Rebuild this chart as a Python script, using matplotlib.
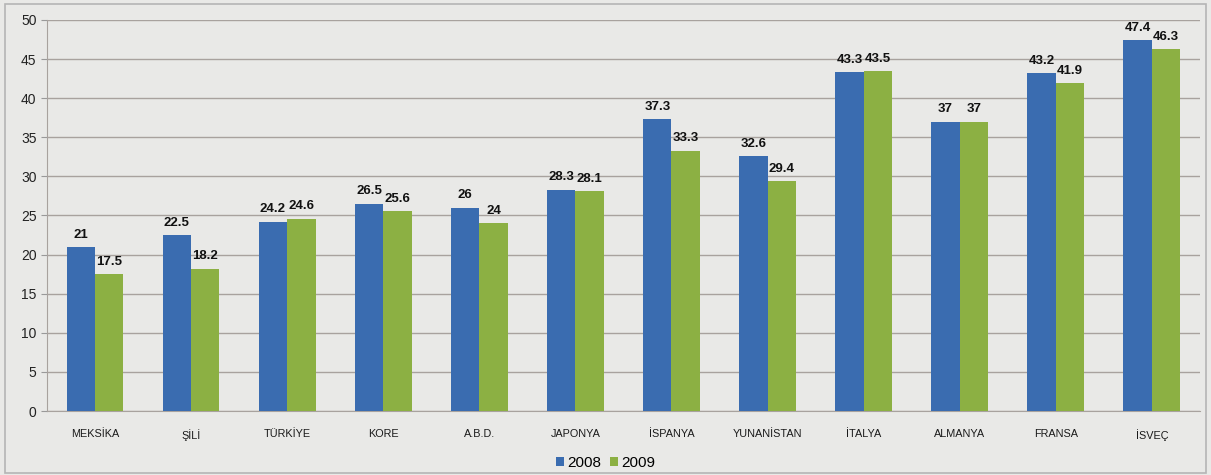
import matplotlib
matplotlib.use("Agg")
import matplotlib.pyplot as plt
import numpy as np

plt.rcParams['font.family'] = ['Liberation Sans', 'DejaVu Sans']

countries = ["MEKSİKA", "ŞİLİ", "TÜRKİYE", "KORE", "A.B.D.", "JAPONYA",
             "İSPANYA", "YUNANİSTAN", "İTALYA", "ALMANYA", "FRANSA", "İSVEÇ"]
v2008 = [21, 22.5, 24.2, 26.5, 26, 28.3, 37.3, 32.6, 43.3, 37, 43.2, 47.4]
v2009 = [17.5, 18.2, 24.6, 25.6, 24, 28.1, 33.3, 29.4, 43.5, 37, 41.9, 46.3]

blue = "#3a6cb0"
green = "#8cb043"
bg = "#e9e9e7"

fig = plt.figure(figsize=(12.11, 4.75), dpi=100, facecolor=bg)
ax = fig.add_axes([0.0388, 0.1347, 0.952, 0.8233])
ax.set_facecolor(bg)

x = np.arange(len(countries))
w = 0.295
b1 = ax.bar(x - w / 2, v2008, w, color=blue, label="2008", zorder=3)
b2 = ax.bar(x + w / 2, v2009, w, color=green, label="2009", zorder=3)

# value labels above each bar
for bars, vals in ((b1, v2008), (b2, v2009)):
    for r, v in zip(bars, vals):
        ax.text(r.get_x() + r.get_width() / 2, v + 0.8, "%g" % v, ha="center",
                va="bottom", fontsize=9.5, fontweight="bold", color="#111111")

ax.set_xlim(-0.5, len(countries) - 0.5)
ax.set_ylim(0, 50)
ax.set_yticks(range(0, 51, 5))
ax.set_xticks(x)
ax.set_xticklabels(countries, fontsize=7.8, color="#1a1a1a")
ax.tick_params(axis="y", labelsize=10, length=4, color="#999999", colors="#222222")
ax.tick_params(axis="x", length=0, pad=13)
ax.grid(axis="y", color="#a8a29e", linewidth=1.0, zorder=0)
for s in ("top", "right"):
    ax.spines[s].set_visible(False)
for s in ("left", "bottom"):
    ax.spines[s].set_color("#a8a29e")

fig.legend(handles=[b1, b2], labels=["2008", "2009"], loc="center",
           bbox_to_anchor=(0.5, 0.025), ncol=2, frameon=False, fontsize=11,
           handlelength=0.5, handleheight=0.5, handletextpad=0.2, columnspacing=0.6)

fig.patches.append(plt.Rectangle((0.004, 0.004), 0.992, 0.988, transform=fig.transFigure,
                                 fill=False, edgecolor="#b5b5b5", linewidth=1.2))

fig.savefig("out.png", dpi=100, facecolor=bg)
